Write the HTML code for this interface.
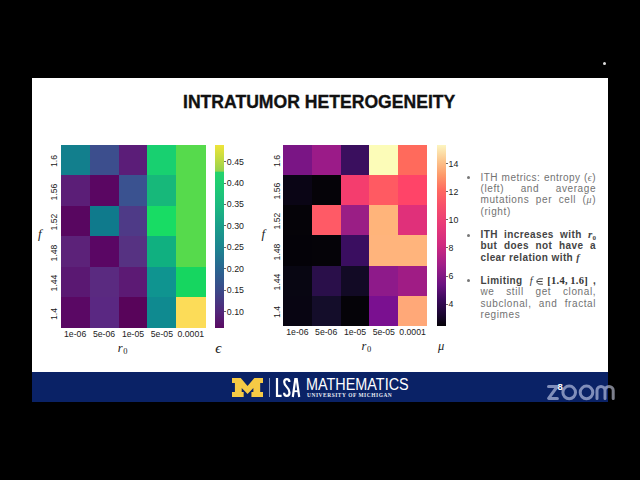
<!DOCTYPE html>
<html><head><meta charset="utf-8">
<style>
*{margin:0;padding:0;box-sizing:border-box}
html,body{width:640px;height:480px;background:#000;overflow:hidden;font-family:"Liberation Sans",sans-serif}
.slide{position:absolute;left:32px;top:78px;width:576px;height:294px;background:#fff}
.foot{position:absolute;left:32px;top:372px;width:576px;height:30px;background:#0a2266}
.abs{position:absolute}
.c{position:absolute}
.yl{position:absolute;width:40px;height:12px;line-height:12px;text-align:center;font-size:8.6px;color:#1a1a1a;transform:rotate(-90deg)}
.xl{position:absolute;width:40px;height:10px;line-height:10px;text-align:center;font-size:8.7px;color:#222}
.tk{position:absolute;width:2px;height:1px;background:#666}
.cl{position:absolute;height:10px;line-height:10px;font-size:8.8px;color:#222;white-space:nowrap}
.title{position:absolute;left:183.2px;top:90.5px;font-size:18.3px;font-weight:bold;color:#111;white-space:nowrap;line-height:22px;transform-origin:0 0;transform:scaleX(0.962);-webkit-text-stroke:0.35px #111}
.txt{position:absolute;left:480.5px;width:115.6px;font-size:10px;line-height:11.35px;color:#727272;letter-spacing:0.6px}
.ln{display:block;height:11.35px;text-align:justify;text-align-last:justify;white-space:nowrap}
.ln.last{text-align-last:left}
.b{font-weight:bold;color:#444;letter-spacing:0.4px}
.bul{position:absolute;width:3px;height:3px;border-radius:50%;background:#777}
.math{font-family:"Liberation Serif",serif;font-style:italic}
</style></head><body>
<div class="slide"></div>
<div class="foot"></div>
<div class="title">INTRATUMOR HETEROGENEITY</div>
<div class="c" style="left:60.70px;top:144.70px;width:29.22px;height:30.82px;background:#127f8d"></div>
<div class="c" style="left:89.62px;top:144.70px;width:29.22px;height:30.82px;background:#3c4e8d"></div>
<div class="c" style="left:118.54px;top:144.70px;width:29.22px;height:30.82px;background:#5b1d78"></div>
<div class="c" style="left:147.46px;top:144.70px;width:29.22px;height:30.82px;background:#18d070"></div>
<div class="c" style="left:176.38px;top:144.70px;width:29.22px;height:30.82px;background:#56da4c"></div>
<div class="c" style="left:60.70px;top:175.22px;width:29.22px;height:30.82px;background:#5b1e77"></div>
<div class="c" style="left:89.62px;top:175.22px;width:29.22px;height:30.82px;background:#5a0662"></div>
<div class="c" style="left:118.54px;top:175.22px;width:29.22px;height:30.82px;background:#3a5290"></div>
<div class="c" style="left:147.46px;top:175.22px;width:29.22px;height:30.82px;background:#17b87a"></div>
<div class="c" style="left:176.38px;top:175.22px;width:29.22px;height:30.82px;background:#56da4c"></div>
<div class="c" style="left:60.70px;top:205.73px;width:29.22px;height:30.82px;background:#580660"></div>
<div class="c" style="left:89.62px;top:205.73px;width:29.22px;height:30.82px;background:#0f7a8c"></div>
<div class="c" style="left:118.54px;top:205.73px;width:29.22px;height:30.82px;background:#4e3a87"></div>
<div class="c" style="left:147.46px;top:205.73px;width:29.22px;height:30.82px;background:#18dc64"></div>
<div class="c" style="left:176.38px;top:205.73px;width:29.22px;height:30.82px;background:#56da4c"></div>
<div class="c" style="left:60.70px;top:236.25px;width:29.22px;height:30.82px;background:#5c2279"></div>
<div class="c" style="left:89.62px;top:236.25px;width:29.22px;height:30.82px;background:#5a0664"></div>
<div class="c" style="left:118.54px;top:236.25px;width:29.22px;height:30.82px;background:#563282"></div>
<div class="c" style="left:147.46px;top:236.25px;width:29.22px;height:30.82px;background:#10b080"></div>
<div class="c" style="left:176.38px;top:236.25px;width:29.22px;height:30.82px;background:#56da4c"></div>
<div class="c" style="left:60.70px;top:266.77px;width:29.22px;height:30.82px;background:#5a1872"></div>
<div class="c" style="left:89.62px;top:266.77px;width:29.22px;height:30.82px;background:#5a2a80"></div>
<div class="c" style="left:118.54px;top:266.77px;width:29.22px;height:30.82px;background:#5c1a74"></div>
<div class="c" style="left:147.46px;top:266.77px;width:29.22px;height:30.82px;background:#0f9490"></div>
<div class="c" style="left:176.38px;top:266.77px;width:29.22px;height:30.82px;background:#16d660"></div>
<div class="c" style="left:60.70px;top:297.28px;width:29.22px;height:30.82px;background:#5a0864"></div>
<div class="c" style="left:89.62px;top:297.28px;width:29.22px;height:30.82px;background:#5a2882"></div>
<div class="c" style="left:118.54px;top:297.28px;width:29.22px;height:30.82px;background:#58045a"></div>
<div class="c" style="left:147.46px;top:297.28px;width:29.22px;height:30.82px;background:#0f8a90"></div>
<div class="c" style="left:176.38px;top:297.28px;width:29.22px;height:30.82px;background:#fcdc58"></div>
<div class="c" style="left:283.00px;top:144.50px;width:29.10px;height:30.55px;background:#7a1585"></div>
<div class="c" style="left:311.80px;top:144.50px;width:29.10px;height:30.55px;background:#9b1b88"></div>
<div class="c" style="left:340.60px;top:144.50px;width:29.10px;height:30.55px;background:#3a0f5e"></div>
<div class="c" style="left:369.40px;top:144.50px;width:29.10px;height:30.55px;background:#fcfcb8"></div>
<div class="c" style="left:398.20px;top:144.50px;width:29.10px;height:30.55px;background:#ff6a5c"></div>
<div class="c" style="left:283.00px;top:174.75px;width:29.10px;height:30.55px;background:#0a0515"></div>
<div class="c" style="left:311.80px;top:174.75px;width:29.10px;height:30.55px;background:#050308"></div>
<div class="c" style="left:340.60px;top:174.75px;width:29.10px;height:30.55px;background:#f43d6e"></div>
<div class="c" style="left:369.40px;top:174.75px;width:29.10px;height:30.55px;background:#ff5a62"></div>
<div class="c" style="left:398.20px;top:174.75px;width:29.10px;height:30.55px;background:#ff4468"></div>
<div class="c" style="left:283.00px;top:205.00px;width:29.10px;height:30.55px;background:#050308"></div>
<div class="c" style="left:311.80px;top:205.00px;width:29.10px;height:30.55px;background:#ff5a66"></div>
<div class="c" style="left:340.60px;top:205.00px;width:29.10px;height:30.55px;background:#9a1e85"></div>
<div class="c" style="left:369.40px;top:205.00px;width:29.10px;height:30.55px;background:#ffb47a"></div>
<div class="c" style="left:398.20px;top:205.00px;width:29.10px;height:30.55px;background:#e0307a"></div>
<div class="c" style="left:283.00px;top:235.25px;width:29.10px;height:30.55px;background:#040208"></div>
<div class="c" style="left:311.80px;top:235.25px;width:29.10px;height:30.55px;background:#050308"></div>
<div class="c" style="left:340.60px;top:235.25px;width:29.10px;height:30.55px;background:#3a0e60"></div>
<div class="c" style="left:369.40px;top:235.25px;width:29.10px;height:30.55px;background:#ffb47c"></div>
<div class="c" style="left:398.20px;top:235.25px;width:29.10px;height:30.55px;background:#ffb47c"></div>
<div class="c" style="left:283.00px;top:265.50px;width:29.10px;height:30.55px;background:#080612"></div>
<div class="c" style="left:311.80px;top:265.50px;width:29.10px;height:30.55px;background:#2a0f4a"></div>
<div class="c" style="left:340.60px;top:265.50px;width:29.10px;height:30.55px;background:#120a25"></div>
<div class="c" style="left:369.40px;top:265.50px;width:29.10px;height:30.55px;background:#8e1a8a"></div>
<div class="c" style="left:398.20px;top:265.50px;width:29.10px;height:30.55px;background:#a01c85"></div>
<div class="c" style="left:283.00px;top:295.75px;width:29.10px;height:30.55px;background:#080512"></div>
<div class="c" style="left:311.80px;top:295.75px;width:29.10px;height:30.55px;background:#140d2a"></div>
<div class="c" style="left:340.60px;top:295.75px;width:29.10px;height:30.55px;background:#050308"></div>
<div class="c" style="left:369.40px;top:295.75px;width:29.10px;height:30.55px;background:#7a1090"></div>
<div class="c" style="left:398.20px;top:295.75px;width:29.10px;height:30.55px;background:#ffa878"></div>
<div class="abs" style="left:214.5px;top:144.6px;width:9.5px;height:183.2px;background:linear-gradient(to bottom,#eee43a 0px,#c8dc40 12px,#96d24e 26px,#24d26e 27.5px,#20ce72 38px,#1cba80 60px,#1a9e8a 81px,#1d8490 103px,#2a6590 124px,#3c4888 146px,#52267a 167px,#5a0a62 183.2px)"></div>
<div class="abs" style="left:436.5px;top:144.5px;width:9px;height:181.5px;background:linear-gradient(to bottom,#fcf5c0 0px,#fcc890 15px,#fd9a6a 30px,#ff6a60 45px,#f8506a 60px,#e83a78 80px,#d02a80 100px,#a01e88 120px,#6a1280 140px,#3a0a5a 155px,#1a0630 170px,#050308 181px)"></div>
<div class="yl" style="left:34.3px;top:155.16px">1.6</div>
<div class="yl" style="left:34.3px;top:185.67px">1.56</div>
<div class="yl" style="left:34.3px;top:216.19px">1.52</div>
<div class="yl" style="left:34.3px;top:246.71px">1.48</div>
<div class="yl" style="left:34.3px;top:277.22px">1.44</div>
<div class="yl" style="left:34.3px;top:307.74px">1.4</div>
<div class="yl" style="left:257.2px;top:154.82px">1.6</div>
<div class="yl" style="left:257.2px;top:185.07px">1.56</div>
<div class="yl" style="left:257.2px;top:215.32px">1.52</div>
<div class="yl" style="left:257.2px;top:245.57px">1.48</div>
<div class="yl" style="left:257.2px;top:275.82px">1.44</div>
<div class="yl" style="left:257.2px;top:306.07px">1.4</div>
<div class="xl" style="left:55.16px;top:329px">1e-06</div>
<div class="xl" style="left:84.08px;top:329px">5e-06</div>
<div class="xl" style="left:113.00px;top:329px">1e-05</div>
<div class="xl" style="left:141.92px;top:329px">5e-05</div>
<div class="xl" style="left:170.84px;top:329px">0.0001</div>
<div class="xl" style="left:277.40px;top:326.5px">1e-06</div>
<div class="xl" style="left:306.20px;top:326.5px">5e-06</div>
<div class="xl" style="left:335.00px;top:326.5px">1e-05</div>
<div class="xl" style="left:363.80px;top:326.5px">5e-05</div>
<div class="xl" style="left:392.60px;top:326.5px">0.0001</div>
<div class="tk" style="left:223.8px;top:161.00px"></div><div class="cl" style="left:226.8px;top:156.50px">0.45</div>
<div class="tk" style="left:223.8px;top:182.50px"></div><div class="cl" style="left:226.8px;top:178.00px">0.40</div>
<div class="tk" style="left:223.8px;top:203.90px"></div><div class="cl" style="left:226.8px;top:199.40px">0.35</div>
<div class="tk" style="left:223.8px;top:225.40px"></div><div class="cl" style="left:226.8px;top:220.90px">0.30</div>
<div class="tk" style="left:223.8px;top:246.80px"></div><div class="cl" style="left:226.8px;top:242.30px">0.25</div>
<div class="tk" style="left:223.8px;top:268.30px"></div><div class="cl" style="left:226.8px;top:263.80px">0.20</div>
<div class="tk" style="left:223.8px;top:289.80px"></div><div class="cl" style="left:226.8px;top:285.30px">0.15</div>
<div class="tk" style="left:223.8px;top:311.20px"></div><div class="cl" style="left:226.8px;top:306.70px">0.10</div>
<div class="tk" style="left:445.5px;top:163.10px"></div><div class="cl" style="left:448.5px;top:158.60px">14</div>
<div class="tk" style="left:445.5px;top:191.20px"></div><div class="cl" style="left:448.5px;top:186.70px">12</div>
<div class="tk" style="left:445.5px;top:219.30px"></div><div class="cl" style="left:448.5px;top:214.80px">10</div>
<div class="tk" style="left:445.5px;top:247.40px"></div><div class="cl" style="left:448.5px;top:242.90px">8</div>
<div class="tk" style="left:445.5px;top:275.50px"></div><div class="cl" style="left:448.5px;top:271.00px">6</div>
<div class="tk" style="left:445.5px;top:303.70px"></div><div class="cl" style="left:448.5px;top:299.20px">4</div>
<div class="abs math" style="left:38px;top:226px;font-size:13px;line-height:16px;color:#222">f</div>
<div class="abs math" style="left:261.5px;top:226px;font-size:13px;line-height:16px;color:#222">f</div>
<div class="abs math" style="left:117.8px;top:340.5px;font-size:12.5px;line-height:14px;color:#222">r<span style="font-style:normal;font-size:8.5px;vertical-align:-2.5px;margin-left:0.5px">0</span></div>
<div class="abs math" style="left:361.5px;top:338.5px;font-size:12.5px;line-height:14px;color:#222">r<span style="font-style:normal;font-size:8.5px;vertical-align:-2.5px;margin-left:0.5px">0</span></div>
<div class="abs math" style="left:215.2px;top:341.3px;font-size:15px;line-height:14px;color:#222">&#1013;</div>
<div class="abs math" style="left:438px;top:339px;font-size:12.5px;line-height:14px;color:#222">&#956;</div>
<div class="bul" style="left:466.5px;top:175.5px"></div>
<div class="bul" style="left:466.5px;top:233.5px"></div>
<div class="bul" style="left:466.5px;top:279px"></div>
<div class="txt" style="top:171.5px">
<span class="ln" style="letter-spacing:0.45px">ITH metrics: entropy (<span class="math">&#1013;</span>)</span>
<span class="ln">(left) and average</span>
<span class="ln">mutations per cell (<span class="math">&#956;</span>)</span>
<span class="ln last">(right)</span>
</div>
<div class="txt b" style="top:229px">
<span class="ln">ITH increases with <span class="math" style="font-size:11px">r</span><span style="font-family:'Liberation Serif',serif;font-size:7px;position:relative;top:2px;letter-spacing:0">0</span></span>
<span class="ln">but does not have a</span>
<span class="ln last">clear relation with <span class="math">f</span></span>
</div>
<div class="txt" style="top:275px">
<span class="ln"><span class="b">Limiting</span> <span style="letter-spacing:0;color:#333;font-size:10.5px;margin-left:2.5px"><span class="math">f</span>&#8201;<svg width="7.5" height="7" viewBox="0 0 7 7" preserveAspectRatio="none" style="vertical-align:-0.5px;margin:0 1.2px 0 1.5px"><path d="M6.5 0.8 H3.8 C2 0.8 0.8 2 0.8 3.5 C0.8 5 2 6.2 3.8 6.2 H6.5 M1 3.5 H6" fill="none" stroke="#333" stroke-width="0.9"/></svg>&#8201;<span style="font-family:'Liberation Serif',serif;font-weight:bold;letter-spacing:0.3px">[1.4,&#8201;1.6]</span></span> <span class="b">,</span></span>
<span class="ln">we still get clonal,</span>
<span class="ln">subclonal, and fractal</span>
<span class="ln last">regimes</span>
</div>
<!-- footer -->
<svg class="abs" style="left:231.9px;top:377.9px" width="31.1" height="18.9" viewBox="0 0 32 19" preserveAspectRatio="none">
<path d="M0 0 H9 L16 8 L23 0 H32 V5 H29 V14 H32 V19 H20 V14 H22 V10 L16 16 L10 10 V14 H12 V19 H0 V14 H3 V5 H0 Z" fill="#f6ca45"/>
</svg>
<div class="abs" style="left:269px;top:378px;width:1px;height:19px;background:#7f93c0"></div>
<svg class="abs" style="left:0;top:0" width="640" height="480" viewBox="0 0 640 480">
<g fill="none" stroke="#fff" stroke-width="2.2">
<path d="M277 378 V395.9 H281.6"/>
<path d="M289.4 382 C289.4 379.9 288.4 379.1 286.8 379.1 C285.2 379.1 284.2 380.1 284.2 382.1 C284.2 384.6 285.5 385.9 287 387.3 C288.6 388.8 289.5 390.1 289.5 392.6 C289.5 394.9 288.4 395.9 286.8 395.9 C285.1 395.9 284.1 394.9 284.1 392.8"/>
<path d="M292.8 397 L295.3 379.1 H296.7 L299.2 397"/>
<path d="M293.9 391.2 H298.1" stroke-width="1.8"/>
</g>
<g fill="none" stroke="rgba(225,232,255,0.55)" stroke-width="3" stroke-linecap="round" stroke-linejoin="round">
<path d="M548.5 386.5 H557.3 L548.6 398.4 H557.4"/>
<circle cx="569.2" cy="392.4" r="6.3"/>
<circle cx="586.5" cy="392.4" r="6.3"/>
<path d="M597 398.4 V390.6 C597 388 598.8 386.4 601 386.4 C603.2 386.4 605 388 605 390.6 V398.4 M605 390.6 C605 388 606.8 386.4 609 386.4 C611.2 386.4 613.2 388 613.2 390.6 V398.4"/>
</g>
</svg>
<div class="abs" style="left:306px;top:373.5px;font-size:17.4px;line-height:20px;color:#fff;white-space:nowrap;transform-origin:0 0;transform:scaleX(0.828)">MATHEMATICS</div>
<div class="abs" style="left:307px;top:391.8px;font-size:5.4px;line-height:7px;font-weight:bold;font-family:'Liberation Serif',serif;color:#e8ecf5;white-space:nowrap;letter-spacing:0.56px">UNIVERSITY OF MICHIGAN</div>
<div class="abs" style="left:557.6px;top:381.5px;font-size:9.5px;line-height:10px;color:#fff;font-weight:bold">8</div>
<div class="abs" style="left:603px;top:62px;width:3px;height:3px;border-radius:50%;background:#ddd"></div>
</body></html>
